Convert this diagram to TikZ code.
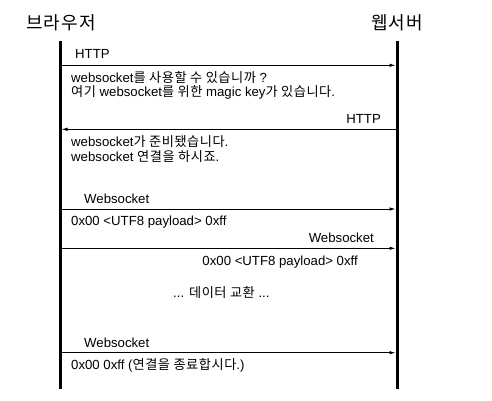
\documentclass[tikz,border=0pt]{standalone}
\usepackage{fontspec}
\setmainfont{Liberation Sans}
\newfontfamily\krfont[LetterSpace=4]{Noto Sans CJK KR}
\newfontfamily\krtitle[LetterSpace=6]{Noto Sans CJK KR}
\newcommand\hk[1]{{\krfont #1}}
\usetikzlibrary{arrows.meta}
\begin{document}
\begin{tikzpicture}[x=1pt,y=-1pt,
  life/.style={line width=3pt},
  msg/.style={line width=0.8pt,-{Latex[length=6pt,width=3.5pt]},shorten <=1.5pt,shorten >=1.5pt},
  txt/.style={inner sep=0pt,anchor=base west,font=\fontsize{13.2}{15}\selectfont},
  rtxt/.style={inner sep=0pt,anchor=base east,font=\fontsize{13.2}{15}\selectfont},
  title/.style={inner sep=0pt,anchor=base,font=\fontsize{18}{20}\selectfont\krtitle}]
\useasboundingbox (0,0) rectangle (492,400);
% titles
\node[title] (tb) at (61,29) {브라우저};
\node[title] (ts) at (397,29) {웹서버};
% lifelines
\coordinate (bt) at (60,41); \coordinate (bb) at (60,389);
\coordinate (st) at (397,41); \coordinate (sb) at (397,389);
\draw[life] (bt) -- (bb);
\draw[life] (st) -- (sb);
% message endpoints
\foreach \n/\y in {1/65.3,2/129.3,3/209,4/248.3,5/352.7}{
  \coordinate (b\n) at (60,\y);
  \coordinate (s\n) at (397,\y);
}
\draw[msg] (b1) -- (s1);
\draw[msg] (s2) -- (b2);
\draw[msg] (b3) -- (s3);
\draw[msg] (b4) -- (s4);
\draw[msg] (b5) -- (s5);
% labels
\node[txt] (l1) at (75,58) {HTTP};
\node[txt] (t1a) at (71,82) {websocket\hk{를 사용할 수 있습니까} ?};
\node[txt] (t1b) at (71,96.5) {\hk{여기} websocket\hk{를 위한} magic key\hk{가 있습니다}.};
\node[rtxt] (l2) at (381,123) {HTTP};
\node[txt] (t2a) at (71,146) {websocket\hk{가 준비됐습니다}.};
\node[txt] (t2b) at (71,161) {websocket \hk{연결을 하시죠}.};
\node[txt] (l3) at (84,203) {Websocket};
\node[txt] (t3) at (71,225.5) {0x00 <UTF8 payload> 0xff};
\node[rtxt] (l4) at (374,242.5) {Websocket};
\node[rtxt] (t4) at (358,265) {0x00 <UTF8 payload> 0xff};
\node[txt] (dx) at (173,297) {... \hk{데이터 교환} ...};
\node[txt] (l5) at (84,347) {Websocket};
\node[txt] (t5) at (71,369) {0x00 0xff (\hk{연결을 종료합시다}.)};
\end{tikzpicture}
\end{document}
